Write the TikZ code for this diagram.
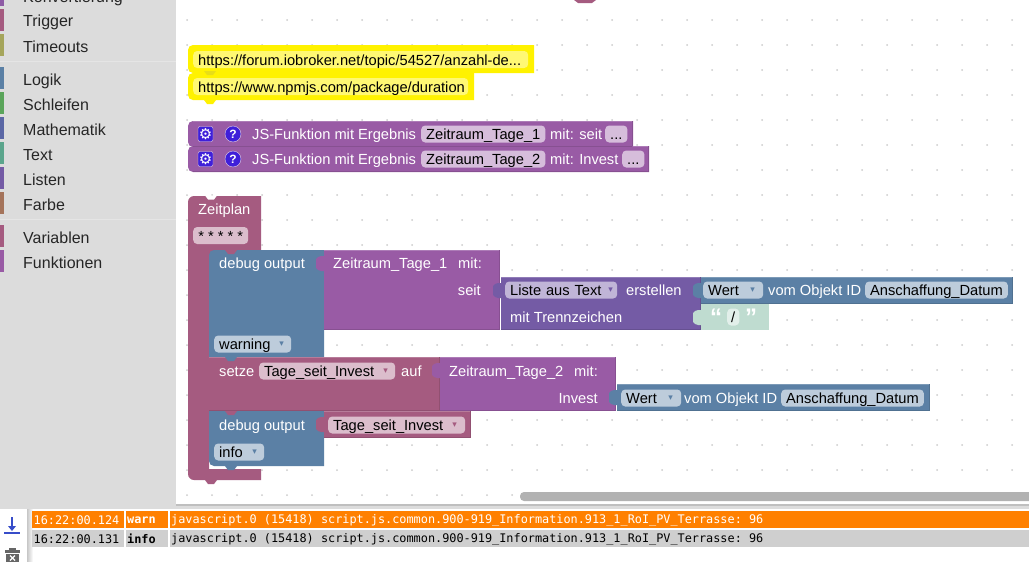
\documentclass[tikz,border=0pt]{standalone}
\usepackage{fontspec}
\setmainfont{Liberation Sans}
\setmonofont{DejaVu Sans Mono}
\newfontfamily\symfont{DejaVu Sans}
\usetikzlibrary{positioning}

\definecolor{panelgray}{HTML}{DCDCDC}
\definecolor{dotgray}{HTML}{CCCCCC}
\definecolor{procpurple}{HTML}{995BA5}
\definecolor{listviolet}{HTML}{745BA5}
\definecolor{objblue}{HTML}{5B80A5}
\definecolor{varrose}{HTML}{A55B80}
\definecolor{textgreen}{HTML}{BFDCD0}
\definecolor{helpblue}{HTML}{3F1FD9}
\definecolor{warnorange}{HTML}{FF8000}
\definecolor{rowgray}{HTML}{CFCFCF}

% little pieces of a block
\newcommand{\bump}[3]{\fill[#3] (#1,#2) -- ++(3,4) -- ++(6,0) -- ++(3,-4) -- cycle;}
\newcommand{\puzzle}[3]{\fill[#3] (#1,#2) -- ++(-3,0) to[bend right=20] ++(-5,3) -- ++(0,9) to[bend right=20] ++(5,3) -- ++(3,0) -- cycle;}
\newcommand{\blockfill}[5]{
	\fill[#5] (#1,#2) rectangle (#3,#4);
	\draw[#5!80!white,line width=0.8pt] (#1,#2+.4) -- (#3,#2+.4);
	\draw[#5!88!black,line width=0.8pt] (#3-.4,#2) -- (#3-.4,#4-.4) -- (#1,#4-.4);
}

\begin{document}
\begin{tikzpicture}[
	x=1pt,y=-1pt,
	font=\fontsize{14.67}{16}\selectfont
]
\tikzset{
	blocktext/.style = {anchor=west,inner sep=0pt,text=white,text height=13pt,text depth=2.5pt},
	field/.style = {anchor=west,inner xsep=5pt,inner ysep=0pt,rectangle,rounded corners=4pt,text=black,text height=14pt,text depth=3pt,align=left},
	dropmark/.style = {anchor=east,inner sep=0pt,font=\symfont\fontsize{9}{9}\selectfont,text=#1},
	menulabel/.style = {anchor=west,inner sep=0pt,font=\fontsize{16}{18}\selectfont,text=black!85,text height=12pt,text depth=3.5pt},
	logcell/.style = {anchor=west,inner sep=0pt,font=\ttfamily\fontsize{11.85}{13}\selectfont},
}
\useasboundingbox (0,0) rectangle (1029,562);

% panels
\fill[white] (0,0) rectangle (1029,562);
\fill[panelgray] (0,0) rectangle (176,505);
\fill[panelgray] (0,505) rectangle (1029,509);
\foreach \dx in {0,...,33}
	\foreach \dy in {0,...,19}
		\fill[dotgray] (187+25*\dx,20+25*\dy) circle (1pt);
\fill[black!25] (176,504) rectangle (1029,505.5);
\fill[black!30,rounded corners=4pt] (520,492) rectangle (1040,501);

% toolbox
\draw[white!90!black,line width=1pt] (0,61.5) -- (176,61.5);
\draw[white!90!black,line width=1pt] (0,219.5) -- (176,219.5);
\foreach \ytop/\tcol/\tname in {
	-16/8E5BA5/Konvertierung,9/A55B80/Trigger,34/A5A55B/Timeouts,
	67/5B80A5/Logik,92/5BA55B/Schleifen,117/5B67A5/Mathematik,
	142/5BA58C/Text,167/745BA5/Listen,192/A5745B/Farbe,
	225/A55B80/Variablen,250/995BA5/Funktionen}{
	\definecolor{tmpcol}{HTML}{\tcol}
	\fill[tmpcol] (0,\ytop) rectangle (4,\ytop+22);
	\node[menulabel] (menu\tname) at (23,\ytop+13.75) {\tname};
}

% hat of the block above the window
\fill[varrose] (574,0) -- (578,3) -- (592,3) -- (596,0) -- cycle;

% comments
\fill[yellow] (534,45) -- (534,73) [rounded corners=5pt] -- (188,73) -- (188,45) [sharp corners] -- cycle;
\fill[yellow] (474,73) -- (474,100) [rounded corners=5pt] -- (188,100) -- (188,73) [sharp corners] -- cycle;
\bump{204}{100}{yellow}
\bump{204}{71}{yellow!90!black}
\node[field,fill=yellow!55,minimum width=335pt,text width=325pt] (urlA) at (193,59.5) {https://forum.iobroker.net/topic/54527/anzahl-de...};
\node[field,fill=yellow!55,minimum width=275pt,text width=265pt] (urlB) at (193,86.5) {https://www.npmjs.com/package/duration};

% functions
\fill[procpurple] (633,121) -- (633,147) [rounded corners=5pt] -- (188,147) -- (188,121) [sharp corners] -- cycle;
\fill[procpurple] (649,146) -- (649,172) [rounded corners=5pt] -- (188,172) -- (188,146) [sharp corners] -- cycle;
\draw[procpurple!80!white,line width=0.8pt] (193,121.4) -- (633,121.4);
\draw[procpurple!88!black,line width=0.8pt] (632.6,121) -- (632.6,146);
\draw[procpurple!80!white,line width=0.8pt] (633,146.4) -- (649,146.4);
\draw[procpurple!88!black,line width=0.8pt] (193,146) -- (632,146);
\draw[procpurple!88!black,line width=0.8pt] (648.6,146) -- (648.6,171.6) -- (193,171.6);
\foreach \ypos/\zname/\mname/\xdots in {134/1/seit/605,159/2/Invest/622}{
	\node[draw=white!70!procpurple,fill=helpblue,rounded corners=2pt,minimum size=15pt,inner sep=0pt,text=white,font=\symfont\fontsize{15}{15}\selectfont] (gear\zname) at (205.5,\ypos) {⚙};
	\node[circle,draw=white!70!procpurple,fill=helpblue,minimum size=16pt,inner sep=0pt,text=white,font=\bfseries\fontsize{12}{12}\selectfont] (help\zname) at (233,\ypos) {?};
	\node[blocktext] (fn\zname) at (252,\ypos) {JS-Funktion mit Ergebnis};
	\node[field,fill=white!60!procpurple] (fnname\zname) at (421,\ypos) {Zeitraum\_Tage\_\zname};
	\node[blocktext] (fnarg\zname) at (550,\ypos) {mit: \mname};
	\node[field,fill=white!60!procpurple] (fndots\zname) at (\xdots,\ypos) {...};
}

% schedule
\fill[varrose] (209,469) -- (261,469) -- (261,480) [rounded corners=6pt] -- (188,480) -- (188,196) [sharp corners] -- (261,196) -- (261,250) -- (209,250) -- cycle;
\fill[varrose] (209,250) rectangle (215,256);
\bump{205}{480}{varrose}
\bump{205}{195.5}{white}
\node[blocktext] (planname) at (198,209) {Zeitplan};
\node[field,fill=white!60!varrose,minimum width=55pt] (plancron) at (193,235.5) {* * * * *};

% debug output 1
\fill[objblue] (324,250) -- (324,357) -- (209,357) [rounded corners=5pt] -- (209,250) [sharp corners] -- cycle;
\bump{225}{250}{varrose}
\node[blocktext] (dbgA) at (219,263) {debug output};
\node[field,fill=white!60!objblue,minimum width=77pt,text width=67pt] (dbgAlevel) at (214,344) {warning};
\node[dropmark=objblue] (dbgAmark) at (284,344) {▾};

% function call 1
\blockfill{324}{250}{500}{330}{procpurple}
\puzzle{324}{256}{procpurple}
\node[blocktext] (callA) at (333,263) {Zeitraum\_Tage\_1};
\node[blocktext] (callAmit) at (458,263) {mit:};
\node[blocktext,anchor=east] (callAarg) at (481,290) {seit};

% list from text
\blockfill{501}{277}{701}{330}{listviolet}
\puzzle{501}{283}{listviolet}
\node[field,fill=white!55!listviolet,minimum width=112pt,text width=102pt] (listmode) at (505,290) {Liste aus Text};
\node[dropmark=listviolet] (listmark) at (613,290) {▾};
\node[blocktext] (listmake) at (626,290) {erstellen};
\node[blocktext] (listsep) at (510,317) {mit Trennzeichen};

% value of object 1
\blockfill{701}{277}{1013}{304}{objblue}
\puzzle{701}{283}{objblue}
\node[field,fill=white!60!objblue,minimum width=60pt,text width=50pt] (valAmode) at (703,290) {Wert};
\node[dropmark=objblue] (valAmark) at (755,290) {▾};
\node[blocktext] (valAtext) at (768,290) {vom Objekt ID};
\node[field,fill=white!60!objblue] (valAid) at (865,290) {Anschaffung\_Datum};

% separator text
\fill[textgreen] (701,304) rectangle (769,330);
\puzzle{701}{310}{textgreen}
\node[field,fill=white!55!textgreen,minimum height=17pt,inner xsep=4pt] (sepval) at (727,317) {/};
\node[blocktext,font=\bfseries\fontsize{24}{24}\selectfont] (sepopen) at (710,320) {“};
\node[blocktext,font=\bfseries\fontsize{24}{24}\selectfont] (sepclose) at (745,320) {”};

% set variable
\blockfill{209}{357}{440}{411}{varrose}
\bump{225}{357}{objblue}
\node[blocktext] (setword) at (219,371) {setze};
\node[field,fill=white!60!varrose,minimum width=136pt,text width=126pt] (setvar) at (259,371) {Tage\_seit\_Invest};
\node[dropmark=varrose] (setmark) at (388,371) {▾};
\node[blocktext] (setto) at (401,371) {auf};

% function call 2
\blockfill{440}{357}{616}{411}{procpurple}
\puzzle{440}{363}{procpurple}
\node[blocktext] (callB) at (449,371) {Zeitraum\_Tage\_2};
\node[blocktext] (callBmit) at (574,371) {mit:};
\node[blocktext,anchor=east] (callBarg) at (598,398) {Invest};

% value of object 2
\blockfill{617}{384}{930}{411}{objblue}
\puzzle{617}{390}{objblue}
\node[field,fill=white!60!objblue,minimum width=60pt,text width=50pt] (valBmode) at (621,398) {Wert};
\node[dropmark=objblue] (valBmark) at (673,398) {▾};
\node[blocktext] (valBtext) at (684,398) {vom Objekt ID};
\node[field,fill=white!60!objblue] (valBid) at (781,398) {Anschaffung\_Datum};

% debug output 2
\fill[objblue] (324,411) -- (324,466) [rounded corners=5pt] -- (209,466) [sharp corners] -- (209,411) -- cycle;
\bump{225}{411}{varrose}
\bump{225}{466}{objblue}
\node[blocktext] (dbgB) at (219,425) {debug output};
\node[field,fill=white!60!objblue,minimum width=50pt,text width=40pt] (dbgBlevel) at (214,452) {info};
\node[dropmark=objblue] (dbgBmark) at (257,452) {▾};
\blockfill{324}{411}{471}{438}{varrose}
\puzzle{324}{417}{varrose}
\node[field,fill=white!60!varrose,minimum width=137pt,text width=127pt] (dbgBvar) at (328,425) {Tage\_seit\_Invest};
\node[dropmark=varrose] (dbgBmark2) at (457,425) {▾};

% log window
\shade[left color=black!22,right color=white] (27,509) rectangle (33,562);
\fill[warnorange] (32,511) rectangle (124,528);
\fill[warnorange] (126,511) rectangle (168,528);
\fill[warnorange] (170,511) rectangle (1029,528);
\fill[rowgray] (32,530) rectangle (124,547);
\fill[rowgray] (126,530) rectangle (168,547);
\fill[rowgray] (170,530) rectangle (1029,547);
\foreach \ypos/\ttime/\tlevel/\tcol in {520.5/124/warn/white,539/131/info/black}{
	\node[logcell,text=\tcol] (time\tlevel) at (33.5,\ypos) {16:22:00.\ttime};
	\node[logcell,text=\tcol,font=\ttfamily\bfseries\fontsize{11.85}{13}\selectfont] (level\tlevel) at (127,\ypos) {\tlevel};
	\node[logcell,text=\tcol] (msg\tlevel) at (171,\ypos) {javascript.0 (15418) script.js.common.900-919\_Information.913\_1\_RoI\_PV\_Terrasse: 96};
}
\draw[objblue!60!blue,line width=1.3pt] (12,517) -- (12,528);
\fill[objblue!60!blue] (8,526) -- (16,526) -- (12,531) -- cycle;
\draw[objblue!60!blue,line width=1.3pt] (4,533) -- (20,533);
\fill[black!60] (9,548) rectangle (16,550);
\fill[black!60] (5,550) rectangle (20,552.5);
\fill[black!60] (6,553.5) rectangle (19,562);
\draw[white,line width=1.2pt] (10,555.5) -- (15,560.5) (15,555.5) -- (10,560.5);
\end{tikzpicture}
\end{document}
